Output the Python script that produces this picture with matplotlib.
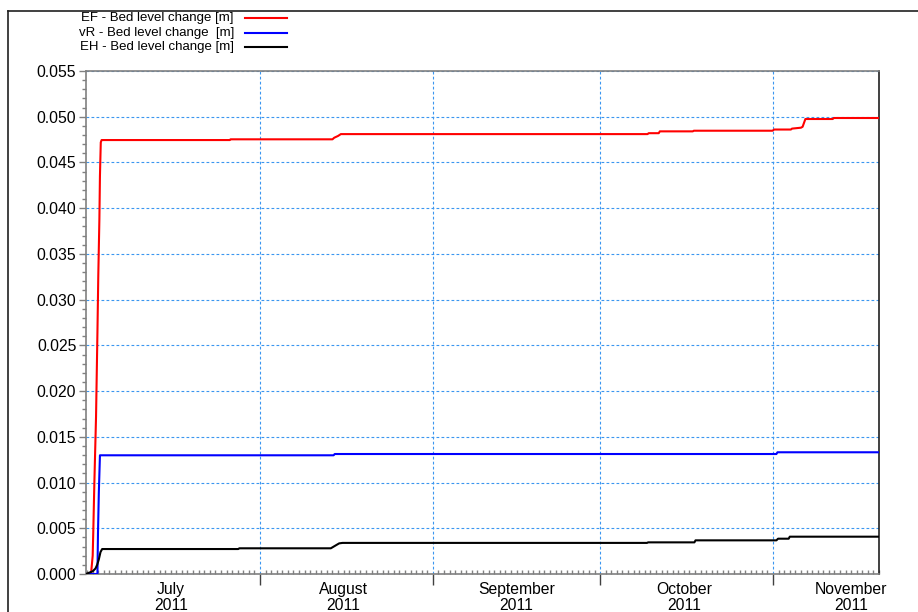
import datetime as dt
import matplotlib
matplotlib.use("Agg")
import matplotlib.pyplot as plt
import matplotlib.dates as mdates
from matplotlib.lines import Line2D
from matplotlib.ticker import MultipleLocator, FuncFormatter

plt.rcParams['font.family'] = ['Liberation Sans', 'DejaVu Sans']

# ---- data (days since 2011-07-01 00:00, value in m) ----
ef_days = [-0.2, 0.7, 1.0, 1.1, 1.3, 1.6, 1.85, 2.0, 2.2, 2.3, 2.45, 2.6, 25.6, 25.7, 44.0, 44.3,
           45.0, 45.5, 100.5, 100.7, 102.5, 102.7, 108.6, 108.8, 122.9, 123.2, 126.2, 126.4,
           128.0, 128.3, 128.8, 133.7, 133.9, 142.0]
ef_vals = [0.0, 0.0, 0.002, 0.0045, 0.010, 0.0172, 0.0264, 0.0325, 0.0388, 0.0435, 0.0472, 0.04745,
           0.04745, 0.04753, 0.04753, 0.0477, 0.0479, 0.0481, 0.0481, 0.0482, 0.0482, 0.0484,
           0.0484, 0.04847, 0.04847, 0.0486, 0.0486, 0.0487, 0.0488, 0.0489, 0.04975, 0.04975,
           0.04986, 0.04986]

vr_days = [-0.2, 1.85, 1.95, 2.1, 2.3, 44.2, 44.4, 123.6, 123.8, 142.0]
vr_vals = [0.0, 0.0, 0.0045, 0.0089, 0.01298, 0.01298, 0.01312, 0.01312, 0.01331, 0.01331]

eh_days = [-0.2, 1.0, 1.5, 1.8, 2.1, 2.4, 2.7, 27.1, 27.3, 43.7, 44.5, 45.2, 45.8, 100.4, 100.6,
           108.9, 109.1, 123.6, 123.9, 125.8, 126.0, 142.0]
eh_vals = [0.0, 0.0003, 0.0006, 0.0010, 0.0016, 0.0024, 0.00273, 0.00273, 0.00281, 0.00281, 0.0031,
           0.00335, 0.0034, 0.0034, 0.00346, 0.00346, 0.00368, 0.00368, 0.00386, 0.00386, 0.00408,
           0.00408]

series_names = ["EF - Bed level change [m]", "vR - Bed level change  [m]", "EH - Bed level change [m]"]
series_colors = ["#ff0000", "#0000ff", "#000000"]
month_labels = ["July\n2011", "August\n2011", "September\n2011", "October\n2011", "November\n2011"]

t0 = dt.datetime(2011, 7, 1)
def to_num(days):
    return [mdates.date2num(t0 + dt.timedelta(days=d)) for d in days]

fig = plt.figure(figsize=(9.18, 6.12), dpi=100)
ax = fig.add_axes([86/918, 1-574/612, (879-86)/918, (574-71)/612])

grid_c = "#3a96f0"
for days, vals, col in zip([ef_days, vr_days, eh_days], [ef_vals, vr_vals, eh_vals], series_colors):
    ax.plot(to_num(days), vals, color=col, lw=1.5, zorder=3)

xmin = mdates.date2num(t0 + dt.timedelta(days=-0.2))
xmax = mdates.date2num(t0 + dt.timedelta(days=142.0))
ax.set_xlim(xmin, xmax)
ax.set_ylim(0, 0.055)

# y axis
ax.yaxis.set_major_locator(MultipleLocator(0.005))
ax.yaxis.set_minor_locator(MultipleLocator(0.001))
ax.yaxis.set_major_formatter(FuncFormatter(lambda v, p: f"{v:.3f}"))
ax.tick_params(axis='y', which='major', direction='out', length=5, width=1, color='#808080',
               labelsize=11.3, pad=2)
ax.tick_params(axis='y', which='minor', direction='out', length=3, width=1, color='#808080')

# x axis: month boundaries as major ticks, days as minor
month_starts = [dt.datetime(2011, m, 1) for m in (8, 9, 10, 11)]
ax.set_xticks([mdates.date2num(d) for d in month_starts])
ax.xaxis.set_minor_locator(mdates.DayLocator())
ax.set_xticklabels([])
ax.tick_params(axis='x', which='major', direction='out', length=8, width=1, color='#404040')
ax.tick_params(axis='x', which='minor', direction='in', length=3, width=1, color='#808080')

# month labels at mid-month
mid_dates = [dt.datetime(2011, m, 16) for m in (7, 8, 9, 10)] + [dt.datetime(2011, 11, 15)]
for d, lab in zip(mid_dates, month_labels):
    ax.text(mdates.date2num(d), -0.016, lab, transform=ax.get_xaxis_transform(),
            ha='center', va='top', fontsize=11.3, linespacing=1.05)

ax.grid(True, which='major', axis='both', color=grid_c, ls=(0, (2.5, 2)), lw=0.8)

for s in ('left', 'bottom', 'top'):
    ax.spines[s].set_color('#808080')
    ax.spines[s].set_linewidth(1.2)
ax.spines['right'].set_color('#202020')
ax.spines['right'].set_linewidth(1.2)

# legend (manual)
leg_y = [18, 33, 47]
for name, col, y in zip(series_names, series_colors, leg_y):
    fig.text(234/918, 1-y/612, name, ha='right', va='center', fontsize=9.5)
    fig.add_artist(Line2D([245/918, 287/918], [1-y/612, 1-y/612], color=col, lw=1.5))

# outer frame
fig.add_artist(Line2D([8/918, 8/918], [0, 1-11/612], color='#202020', lw=1.2))
fig.add_artist(Line2D([8/918, 1], [1-11/612, 1-11/612], color='#202020', lw=1.2))

fig.savefig("out.png", dpi=100)
